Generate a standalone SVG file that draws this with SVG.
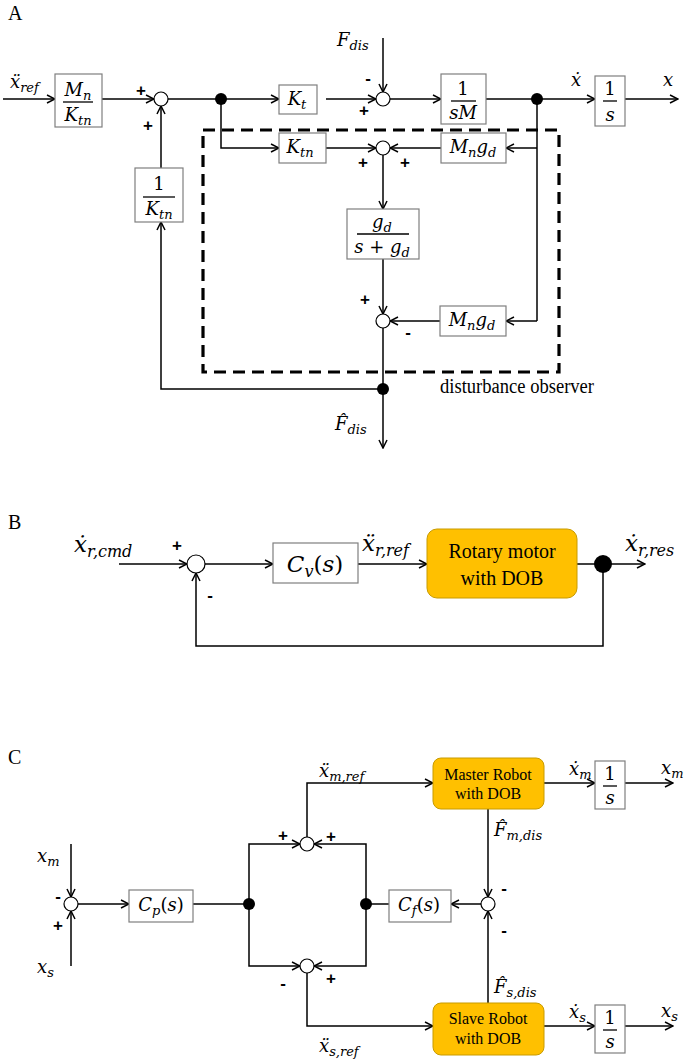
<svg xmlns="http://www.w3.org/2000/svg" width="685" height="1061" viewBox="0 0 685 1061">
<defs>
<marker id="ah" markerWidth="10" markerHeight="10" refX="9" refY="5" orient="auto" markerUnits="userSpaceOnUse">
<path d="M1,1 L9,5 L1,9" fill="none" stroke="#000" stroke-width="1.5"/>
</marker>
<style>
.ln{stroke:#000;stroke-width:1.5;fill:none}
.ar{marker-end:url(#ah)}
.box{fill:#fff;stroke:#7f7f7f;stroke-width:1.2}
.bar{stroke:#000;stroke-width:1.3}
.sum{fill:#fff;stroke:#000;stroke-width:1.2}
.dot{fill:#000}
.m{font-family:"DejaVu Serif","Liberation Serif",serif;font-style:italic;font-size:18px;fill:#000}
.mb{font-size:23px}
.sb{font-size:13px}
.sbb{font-size:16px}
.up{font-style:normal}
.sg{font-family:"Liberation Sans",Arial,sans-serif;font-weight:bold;font-size:17px;text-anchor:middle}
.lab{font-family:"Liberation Serif","Times New Roman",serif;font-size:20px}
.rb{fill:#FFC000;stroke:#C89B00;stroke-width:1}
.rt{font-family:"Liberation Serif","Times New Roman",serif;text-anchor:middle;fill:#000}
.dash{fill:none;stroke:#000;stroke-width:3.2;stroke-dasharray:12 7}
.c{text-anchor:middle}
</style>
</defs>

<!-- ===== A ===== -->
<text class="lab" x="8" y="20">A</text>

<g id="connectors-A">
<line class="ln ar" x1="3" y1="99" x2="55" y2="99"/>
<line class="ln ar" x1="102" y1="99" x2="154" y2="99"/>
<line class="ln" x1="168" y1="99" x2="221" y2="99"/>
<line class="ln ar" x1="221" y1="99" x2="279" y2="99"/>
<line class="ln ar" x1="326" y1="99" x2="376" y2="99"/>
<line class="ln ar" x1="383" y1="38" x2="383" y2="92"/>
<line class="ln ar" x1="390" y1="99" x2="441" y2="99"/>
<line class="ln" x1="486" y1="99" x2="537" y2="99"/>
<line class="ln ar" x1="537" y1="99" x2="595" y2="99"/>
<line class="ln ar" x1="625" y1="99" x2="678" y2="99"/>
<line class="ln" x1="537" y1="99" x2="537" y2="321"/>
<line class="ln ar" x1="537" y1="148" x2="506" y2="148"/>
<line class="ln ar" x1="441" y1="148" x2="390" y2="148"/>
<polyline class="ln ar" points="221,99 221,148 279,148"/>
<line class="ln ar" x1="326" y1="148" x2="376" y2="148"/>
<line class="ln ar" x1="383" y1="155" x2="383" y2="209"/>
<line class="ln ar" x1="383" y1="259" x2="383" y2="314"/>
<line class="ln ar" x1="537" y1="321" x2="506" y2="321"/>
<line class="ln ar" x1="440" y1="321" x2="390" y2="321"/>
<line class="ln ar" x1="383" y1="328" x2="383" y2="448"/>
<polyline class="ln ar" points="383,389 161,389 161,222"/>
<line class="ln ar" x1="161" y1="168" x2="161" y2="106"/>
</g>

<g id="dob-frame">
<rect class="dash" x="203" y="130" width="356" height="242"/>
<text class="lab" x="440" y="393" font-size="17.5" textLength="154" lengthAdjust="spacingAndGlyphs">disturbance observer</text>
</g>

<g id="A-in-label"><text class="m" x="10" y="88">ẍ<tspan class="sb" dy="4">ref</tspan></text></g>

<g id="A-Mn-Ktn">
<rect class="box" x="55" y="74" width="47" height="53"/>
<text class="m c" x="78" y="96">M<tspan class="sb" dy="4">n</tspan></text>
<line class="bar" x1="63" y1="102" x2="93" y2="102"/>
<text class="m c" x="78" y="121">K<tspan class="sb" dy="4">tn</tspan></text>
</g>

<g id="A-sum1">
<circle class="sum" cx="161" cy="99" r="7"/>
<text class="sg" x="141" y="96">+</text>
<text class="sg" x="148" y="131">+</text>
</g>

<g id="A-branch1"><circle class="dot" cx="221" cy="99" r="6"/></g>

<g id="A-Kt">
<rect class="box" x="279" y="85" width="38" height="29"/>
<text class="m c" x="297" y="105">K<tspan class="sb" dy="4">t</tspan></text>
</g>

<g id="A-Fdis"><text class="m" x="337" y="46">F<tspan class="sb" dy="4">dis</tspan></text></g>

<g id="A-sum2">
<circle class="sum" cx="383" cy="99" r="7"/>
<text class="sg" x="368" y="84">-</text>
<text class="sg" x="364" y="116">+</text>
</g>

<g id="A-1sM">
<rect class="box" x="441" y="74" width="45" height="50"/>
<text class="m c up" x="463" y="95">1</text>
<line class="bar" x1="451" y1="101" x2="476" y2="101"/>
<text class="m c" x="463" y="119">sM</text>
</g>

<g id="A-branch2"><circle class="dot" cx="537" cy="99" r="6"/></g>
<g id="A-xdot"><text class="m" x="571" y="86">ẋ</text></g>

<g id="A-int">
<rect class="box" x="595" y="76" width="30" height="50"/>
<text class="m c up" x="610" y="95">1</text>
<line class="bar" x1="603" y1="101" x2="617" y2="101"/>
<text class="m c" x="610" y="121">s</text>
</g>
<g id="A-x"><text class="m" x="663" y="86">x</text></g>

<g id="A-Ktn">
<rect class="box" x="279" y="133" width="47" height="30"/>
<text class="m c" x="300" y="153">K<tspan class="sb" dy="4">tn</tspan></text>
</g>

<g id="A-Mngd1">
<rect class="box" x="441" y="133" width="65" height="30"/>
<text class="m c" x="473" y="153">M<tspan class="sb" dy="4">n</tspan><tspan dy="-4">g</tspan><tspan class="sb" dy="4">d</tspan></text>
</g>

<g id="A-sum3">
<circle class="sum" cx="383" cy="148" r="7"/>
<text class="sg" x="363" y="168">+</text>
<text class="sg" x="405" y="168">+</text>
</g>

<g id="A-filter">
<rect class="box" x="347" y="209" width="72" height="50"/>
<text class="m c" x="382" y="228">g<tspan class="sb" dy="4">d</tspan></text>
<line class="bar" x1="357" y1="234" x2="409" y2="234"/>
<text class="m c" x="382" y="253">s <tspan class="up">+</tspan> g<tspan class="sb" dy="4">d</tspan></text>
</g>

<g id="A-sum4">
<circle class="sum" cx="383" cy="321" r="7"/>
<text class="sg" x="365" y="305">+</text>
<text class="sg" x="408" y="338">-</text>
</g>

<g id="A-Mngd2">
<rect class="box" x="440" y="306" width="66" height="30"/>
<text class="m c" x="472" y="326">M<tspan class="sb" dy="4">n</tspan><tspan dy="-4">g</tspan><tspan class="sb" dy="4">d</tspan></text>
</g>

<g id="A-branch3"><circle class="dot" cx="383" cy="389" r="6"/></g>

<g id="A-inv">
<rect class="box" x="135" y="168" width="48" height="54"/>
<text class="m c up" x="159" y="190">1</text>
<line class="bar" x1="143" y1="197" x2="175" y2="197"/>
<text class="m c" x="159" y="215">K<tspan class="sb" dy="4">tn</tspan></text>
</g>

<g id="A-Fhat"><text class="m" x="335" y="430">F̂<tspan class="sb" dy="4">dis</tspan></text></g>

<!-- ===== B ===== -->
<text class="lab" x="8" y="529">B</text>

<g id="connectors-B">
<line class="ln ar" x1="119" y1="564" x2="187" y2="564"/>
<line class="ln ar" x1="205" y1="564" x2="273" y2="564"/>
<line class="ln ar" x1="358" y1="564" x2="427" y2="564"/>
<line class="ln" x1="577" y1="564" x2="603" y2="564"/>
<line class="ln ar" x1="603" y1="564" x2="645" y2="564"/>
<polyline class="ln ar" points="603,564 603,646 196,646 196,573"/>
</g>

<g id="B-cmd"><text class="m mb" x="74" y="552">ẋ<tspan class="sbb" dy="5">r,cmd</tspan></text></g>

<g id="B-sum">
<circle class="sum" cx="196" cy="564" r="9"/>
<text class="sg" x="177" y="551" font-size="20">+</text>
<text class="sg" x="210" y="601" font-size="20">-</text>
</g>

<g id="B-Cv">
<rect class="box" x="273" y="543" width="85" height="40"/>
<text class="m mb c" x="315" y="572">C<tspan class="sbb" dy="5">v</tspan><tspan class="up" dy="-5">(</tspan>s<tspan class="up">)</tspan></text>
</g>

<g id="B-ref"><text class="m mb" x="362" y="551">ẍ<tspan class="sbb" dy="5">r,ref</tspan></text></g>

<g id="B-motor">
<rect class="rb" x="427" y="529" width="150" height="69" rx="10"/>
<text class="rt" x="502" y="558" font-size="20">Rotary motor</text>
<text class="rt" x="502" y="585" font-size="20">with DOB</text>
</g>

<g id="B-branch"><circle class="dot" cx="603" cy="564" r="9"/></g>
<g id="B-res"><text class="m mb" x="625" y="551">ẋ<tspan class="sbb" dy="5">r,res</tspan></text></g>

<!-- ===== C ===== -->
<text class="lab" x="8" y="764">C</text>

<g id="connectors-C">
<line class="ln ar" x1="71" y1="844" x2="71" y2="897"/>
<line class="ln ar" x1="71" y1="966" x2="71" y2="911"/>
<line class="ln ar" x1="78" y1="904" x2="129" y2="904"/>
<line class="ln" x1="193" y1="904" x2="249" y2="904"/>
<polyline class="ln ar" points="249,904 249,844 300,844"/>
<polyline class="ln ar" points="249,904 249,966 300,966"/>
<polyline class="ln ar" points="307,837 307,783 433,783"/>
<polyline class="ln ar" points="307,973 307,1026 433,1026"/>
<line class="ln ar" x1="544" y1="783" x2="595" y2="783"/>
<line class="ln ar" x1="625" y1="783" x2="673" y2="783"/>
<line class="ln ar" x1="488" y1="809" x2="488" y2="897"/>
<line class="ln ar" x1="481" y1="904" x2="451" y2="904"/>
<line class="ln" x1="389" y1="904" x2="366" y2="904"/>
<polyline class="ln ar" points="366,904 366,844 314,844"/>
<polyline class="ln ar" points="366,904 366,966 314,966"/>
<line class="ln ar" x1="488" y1="1003" x2="488" y2="911"/>
<line class="ln ar" x1="544" y1="1026" x2="595" y2="1026"/>
<line class="ln ar" x1="625" y1="1026" x2="673" y2="1026"/>
</g>

<g id="C-xm-in"><text class="m" x="37" y="862">x<tspan class="sb" dy="4">m</tspan></text></g>
<g id="C-xs-in"><text class="m" x="37" y="973">x<tspan class="sb" dy="4">s</tspan></text></g>

<g id="C-sum1">
<circle class="sum" cx="71" cy="904" r="7"/>
<text class="sg" x="58" y="902">-</text>
<text class="sg" x="58" y="931">+</text>
</g>

<g id="C-Cp">
<rect class="box" x="129" y="890" width="64" height="32"/>
<text class="m c" x="161" y="911">C<tspan class="sb" dy="4">p</tspan><tspan class="up" dy="-4">(</tspan>s<tspan class="up">)</tspan></text>
</g>

<g id="C-branch1"><circle class="dot" cx="249" cy="904" r="6"/></g>

<g id="C-sum-m">
<circle class="sum" cx="307" cy="844" r="7"/>
<text class="sg" x="283" y="841">+</text>
<text class="sg" x="331" y="842">+</text>
</g>

<g id="C-sum-s">
<circle class="sum" cx="307" cy="966" r="7"/>
<text class="sg" x="283" y="989">-</text>
<text class="sg" x="331" y="984">+</text>
</g>

<g id="C-mref"><text class="m" x="319" y="777">ẍ<tspan class="sb" dy="4">m,ref</tspan></text></g>
<g id="C-sref"><text class="m" x="319" y="1052">ẍ<tspan class="sb" dy="4">s,ref</tspan></text></g>

<g id="C-master">
<rect class="rb" x="433" y="758" width="111" height="51" rx="8"/>
<text class="rt" x="488" y="780" font-size="16">Master Robot</text>
<text class="rt" x="488" y="799" font-size="16">with DOB</text>
</g>

<g id="C-slave">
<rect class="rb" x="433" y="1003" width="111" height="52" rx="8"/>
<text class="rt" x="488" y="1024" font-size="16">Slave Robot</text>
<text class="rt" x="488" y="1044" font-size="16">with DOB</text>
</g>

<g id="C-int-m">
<rect class="box" x="595" y="761" width="30" height="48"/>
<text class="m c up" x="610" y="780">1</text>
<line class="bar" x1="603" y1="786" x2="617" y2="786"/>
<text class="m c" x="610" y="804">s</text>
</g>

<g id="C-int-s">
<rect class="box" x="595" y="1005" width="30" height="48"/>
<text class="m c up" x="610" y="1024">1</text>
<line class="bar" x1="603" y1="1030" x2="617" y2="1030"/>
<text class="m c" x="610" y="1048">s</text>
</g>

<g id="C-xm-dot"><text class="m" x="569" y="775">ẋ<tspan class="sb" dy="4">m</tspan></text></g>
<g id="C-xm-out"><text class="m" x="661" y="774">x<tspan class="sb" dy="4">m</tspan></text></g>
<g id="C-xs-dot"><text class="m" x="569" y="1018">ẋ<tspan class="sb" dy="4">s</tspan></text></g>
<g id="C-xs-out"><text class="m" x="661" y="1017">x<tspan class="sb" dy="4">s</tspan></text></g>

<g id="C-Fm"><text class="m" x="494" y="836">F̂<tspan class="sb" dy="4">m,dis</tspan></text></g>
<g id="C-Fs"><text class="m" x="494" y="993">F̂<tspan class="sb" dy="4">s,dis</tspan></text></g>

<g id="C-sum-f">
<circle class="sum" cx="488" cy="904" r="7"/>
<text class="sg" x="504" y="894">-</text>
<text class="sg" x="504" y="936">-</text>
</g>

<g id="C-Cf">
<rect class="box" x="389" y="890" width="62" height="32"/>
<text class="m c" x="419" y="911">C<tspan class="sb" dy="4">f</tspan><tspan class="up" dy="-4">(</tspan>s<tspan class="up">)</tspan></text>
</g>

<g id="C-branch2"><circle class="dot" cx="366" cy="904" r="6"/></g>
</svg>
